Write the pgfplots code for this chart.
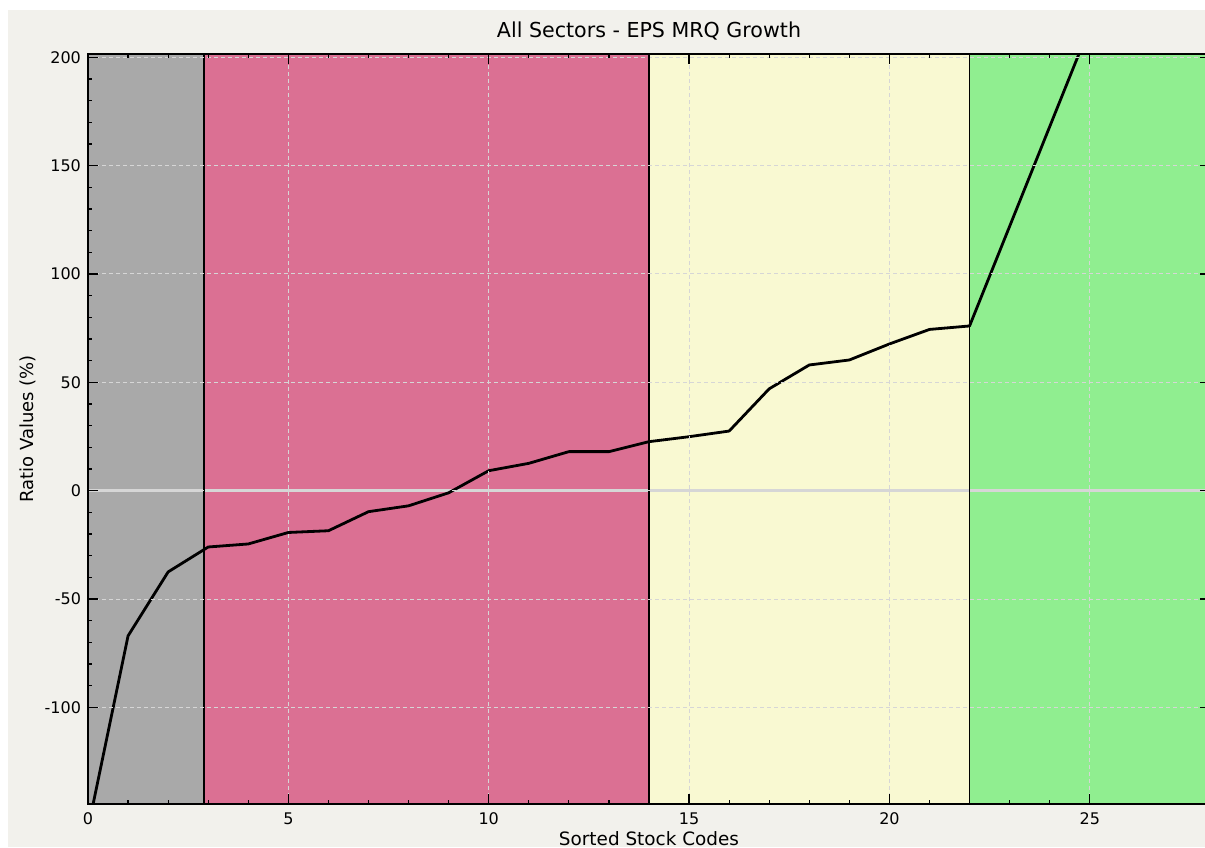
\documentclass[border=0pt]{standalone}
\usepackage{pgfplots}
\pgfplotsset{compat=1.18}
\usepackage{fontspec}
\setmainfont{DejaVu Sans}
\definecolor{bgc}{RGB}{242,241,236}
\definecolor{bandgray}{RGB}{169,169,169}
\definecolor{bandpink}{RGB}{219,112,147}
\definecolor{bandyellow}{RGB}{249,249,210}
\definecolor{bandgreen}{RGB}{144,238,144}
\definecolor{gridc}{RGB}{214,214,214}
\pgfplotstableread{
x y
0 -156
1 -67
2 -37.5
3 -26
4 -24.6
5 -19.3
6 -18.5
7 -9.7
8 -7
9 -1
10 9.2
11 12.6
12 18
13 18
14 22.6
15 24.9
16 27.5
17 47
18 58
19 60.3
20 67.7
21 74.4
22 76
23 122
24 168
25 214
}\datatable
\begin{document}
\begin{tikzpicture}
\fill[white] (0pt,0pt) rectangle (602.5pt,423.5pt);
\fill[bgc] (4pt,0pt) rectangle (602.5pt,418.5pt);
\begin{axis}[
  axis on top,
  at={(44pt,21.5pt)}, anchor=south west,
  scale only axis, width=561pt, height=375pt,
  xmin=0, xmax=28, ymin=-144.6, ymax=201.5,
  axis line style={black, line width=1pt},
  xtick={0,5,10,15,20,25},
  xticklabels={0,5,10,15,20,25},
  ytick={-100,-50,0,50,100,150,200},
  yticklabels={-100,-50,0,50,100,150,200},
  minor x tick num=4, minor y tick num=4,
  tick align=inside,
  major tick length=5pt, minor tick length=2pt,
  tick style={black, line width=0.6pt},
  xtick pos=both, ytick pos=both,
  grid=major,
  major grid style={gridc, dash pattern=on 2pt off 1.5pt, line width=0.5pt},
  tick label style={font=\fontsize{8}{9}\selectfont, text=black},
  xticklabel style={yshift=-1pt},
  title={All Sectors - EPS MRQ Growth},
  title style={font=\fontsize{10.3}{12}\selectfont, at={(axis description cs:0.5,1)}, anchor=base, yshift=2pt},
  xlabel={Sorted Stock Codes},
  xlabel style={font=\fontsize{9.2}{10}\selectfont, at={(axis description cs:0.5,0)}, anchor=base, yshift=-20.5pt},
  ylabel={Ratio Values (\%)},
  ylabel style={font=\fontsize{9}{10}\selectfont, at={(axis description cs:-0.0535,0.5)}, anchor=center},
]
\addplot[fill=bandgray, draw=none] coordinates {(0,-150) (0,210) (2.9,210) (2.9,-150)} -- cycle;
\addplot[fill=bandpink, draw=none] coordinates {(2.9,-150) (2.9,210) (14,210) (14,-150)} -- cycle;
\addplot[fill=bandyellow, draw=none] coordinates {(14,-150) (14,210) (22,210) (22,-150)} -- cycle;
\addplot[fill=bandgreen, draw=none] coordinates {(22,-150) (22,210) (28,210) (28,-150)} -- cycle;
\addplot[color=gridc, line width=1.4pt] coordinates {(0,0) (28,0)};
\addplot[black, line width=0.8pt] coordinates {(2.9,-150) (2.9,210)};
\addplot[black, line width=0.8pt] coordinates {(14,-150) (14,210)};
\addplot[black, line width=0.8pt] coordinates {(22,-150) (22,210)};
\addplot[black, line width=1.4pt, line join=round] table[x=x,y=y] {\datatable};
\end{axis}
\pgfresetboundingbox
\useasboundingbox (0pt,0pt) rectangle (602.5pt,423.5pt);
\end{tikzpicture}
\end{document}
